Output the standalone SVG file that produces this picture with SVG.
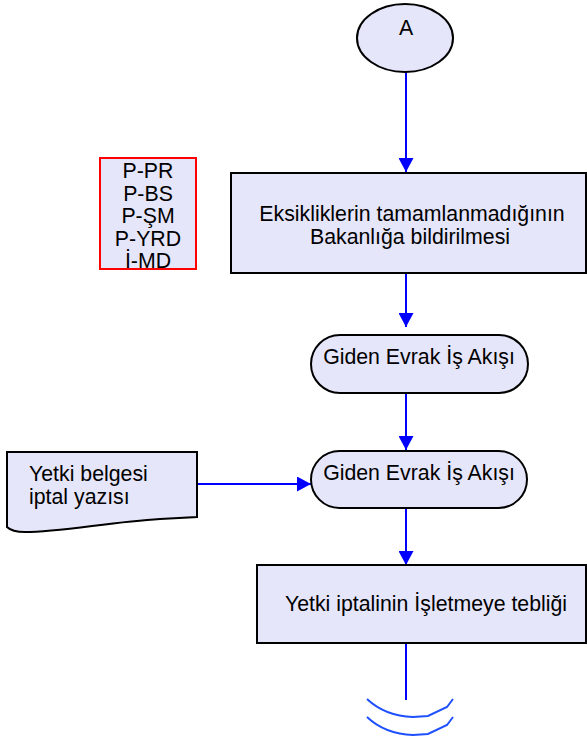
<svg xmlns="http://www.w3.org/2000/svg" width="587" height="740" viewBox="0 0 587 740">
<style>
.shape{fill:#E6E6FA;stroke:#000;stroke-width:2}
.t{font-family:"Liberation Sans",Arial,sans-serif;font-size:21.3px;fill:#000}
.c{text-anchor:middle}
.conn{stroke:#0000FF;stroke-width:2;fill:none}
.wave{stroke:#1E50FF;stroke-width:2;fill:none}
</style>
<defs>
<marker id="ah" markerWidth="14" markerHeight="15" refX="14" refY="7.5" orient="auto" markerUnits="userSpaceOnUse">
<path d="M0,0 L14,7.5 L0,15 Z" fill="#0000FF"/>
</marker>
</defs>
<rect width="587" height="740" fill="#fff"/>
<g id="connectors">
<line class="conn" x1="406" y1="72" x2="406" y2="172" marker-end="url(#ah)"/>
<line class="conn" x1="406" y1="274" x2="406" y2="327" marker-end="url(#ah)"/>
<line class="conn" x1="406" y1="394" x2="406" y2="450" marker-end="url(#ah)"/>
<line class="conn" x1="406" y1="509" x2="406" y2="565" marker-end="url(#ah)"/>
<line class="conn" x1="198" y1="484" x2="311" y2="484" marker-end="url(#ah)"/>
<line class="conn" x1="406" y1="644" x2="406" y2="700"/>
</g>
<g id="offpage">
<path class="wave" d="M367,699 Q385,716 413,717 L428,716 L447,707 L453,699"/>
<path class="wave" d="M367,717 Q385,734 413,735 L428,734 L447,725 L453,717"/>
</g>
<g id="nodeA">
<ellipse class="shape" cx="405" cy="38" rx="48" ry="34"/>
<text class="t c" x="406" y="35">A</text>
</g>
<g id="roles">
<rect x="100" y="158" width="96" height="111" fill="#E6E6FA" stroke="#FF0000" stroke-width="2"/>
<text class="t c" x="148" y="178">P-PR</text>
<text class="t c" x="148" y="200.5">P-BS</text>
<text class="t c" x="148" y="223">P-ŞM</text>
<text class="t c" x="148" y="245.5">P-YRD</text>
<text class="t c" x="148" y="267.5">İ-MD</text>
</g>
<g id="rect1">
<rect class="shape" x="231" y="173" width="355" height="100"/>
<text class="t c" x="412" y="221">Eksikliklerin tamamlanmadığının</text>
<text class="t c" x="410" y="244">Bakanlığa bildirilmesi</text>
</g>
<g id="term1">
<rect class="shape" x="311" y="335" width="217" height="58" rx="29" ry="29"/>
<text class="t c" x="419" y="364">Giden Evrak İş Akışı</text>
</g>
<g id="term2">
<rect class="shape" x="311" y="451" width="216" height="57" rx="28.5" ry="28.5"/>
<text class="t c" x="419" y="480">Giden Evrak İş Akışı</text>
</g>
<g id="doc">
<path class="shape" d="M7,452 L197,452 L197,517 L160,519 C110,522 60,532 25,532 C15,532 10,530 7,527 Z"/>
<text class="t" x="29" y="481">Yetki belgesi</text>
<text class="t" x="29" y="504">iptal yazısı</text>
</g>
<g id="rect2">
<rect class="shape" x="257" y="565" width="329" height="78"/>
<text class="t c" x="426" y="611">Yetki iptalinin İşletmeye tebliği</text>
</g>
</svg>
